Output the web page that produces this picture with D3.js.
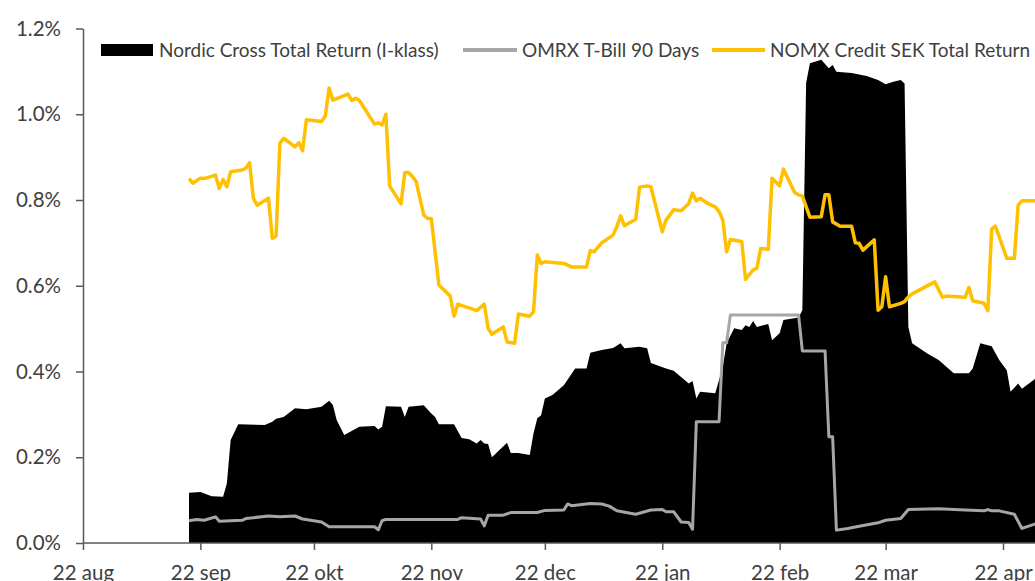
<!DOCTYPE html>
<html>
<head>
<meta charset="utf-8">
<script src="https://cdn.jsdelivr.net/npm/d3@7"></script>
<style>
  html, body { margin: 0; padding: 0; background: #fff; }
  svg { display: block; font-family: Lato, "Open Sans", sans-serif; }
</style>
</head>
<body>
<svg id="chart" width="1035" height="581"></svg>
<script>
// values in percent
const yTicks = [0, 0.2, 0.4, 0.6, 0.8, 1.0, 1.2];
const xTickDates = ["2022-08-22", "2022-09-22", "2022-10-22", "2022-11-22", "2022-12-22",
  "2023-01-22", "2023-02-22", "2023-03-22", "2023-04-22", "2023-05-22"];
const xTickLabels = ["22 aug", "22 sep", "22 okt", "22 nov", "22 dec", "22 jan", "22 feb", "22 mar", "22 apr", "22 maj"];
const seriesNames = ["Nordic Cross Total Return (I-klass)", "OMRX T-Bill 90 Days", "NOMX Credit SEK Total Return"];

const nordicCross = [
  ["2022-09-19",0.117],["2022-09-22",0.119],["2022-09-25",0.109],["2022-09-28",0.108],["2022-09-29",0.139],
  ["2022-09-30",0.240],["2022-10-02",0.277],["2022-10-09",0.275],["2022-10-11",0.283],["2022-10-12",0.290],
  ["2022-10-14",0.294],["2022-10-17",0.314],["2022-10-20",0.312],["2022-10-24",0.318],["2022-10-26",0.332],
  ["2022-10-27",0.322],["2022-10-28",0.287],["2022-10-30",0.252],["2022-11-03",0.271],["2022-11-07",0.273],
  ["2022-11-08",0.265],["2022-11-09",0.271],["2022-11-10",0.319],["2022-11-14",0.318],["2022-11-15",0.294],
  ["2022-11-16",0.318],["2022-11-20",0.321],["2022-11-22",0.302],["2022-11-23",0.294],["2022-11-24",0.277],
  ["2022-11-28",0.277],["2022-11-30",0.245],["2022-12-02",0.242],["2022-12-04",0.232],["2022-12-05",0.240],
  ["2022-12-06",0.232],["2022-12-07",0.231],["2022-12-08",0.200],["2022-12-12",0.234],["2022-12-13",0.210],
  ["2022-12-15",0.210],["2022-12-18",0.205],["2022-12-19",0.256],["2022-12-20",0.291],["2022-12-21",0.298],
  ["2022-12-22",0.337],["2022-12-24",0.345],["2022-12-27",0.368],["2022-12-30",0.407],["2023-01-02",0.407],
  ["2023-01-03",0.444],["2023-01-06",0.450],["2023-01-09",0.455],["2023-01-11",0.466],["2023-01-12",0.454],
  ["2023-01-16",0.458],["2023-01-18",0.454],["2023-01-19",0.420],["2023-01-23",0.407],["2023-01-25",0.402],
  ["2023-01-29",0.372],["2023-01-30",0.378],["2023-01-31",0.337],["2023-02-01",0.353],["2023-02-05",0.349],
  ["2023-02-07",0.411],["2023-02-08",0.466],["2023-02-10",0.501],["2023-02-12",0.497],["2023-02-13",0.508],
  ["2023-02-14",0.504],["2023-02-15",0.518],["2023-02-16",0.504],["2023-02-19",0.511],["2023-02-20",0.473],
  ["2023-02-22",0.489],["2023-02-23",0.520],["2023-02-27",0.526],["2023-02-28",0.543],["2023-03-01",1.073],
  ["2023-03-02",1.119],["2023-03-05",1.127],["2023-03-07",1.107],["2023-03-08",1.115],["2023-03-09",1.099],
  ["2023-03-13",1.096],["2023-03-17",1.089],["2023-03-20",1.080],["2023-03-22",1.070],["2023-03-24",1.076],
  ["2023-03-26",1.080],["2023-03-27",1.072],["2023-03-28",0.504],["2023-03-29",0.466],["2023-04-02",0.442],
  ["2023-04-05",0.427],["2023-04-09",0.396],["2023-04-13",0.396],["2023-04-14",0.407],["2023-04-16",0.466],
  ["2023-04-19",0.459],["2023-04-21",0.427],["2023-04-23",0.403],["2023-04-24",0.353],["2023-04-26",0.372],
  ["2023-04-27",0.360],["2023-05-01",0.386]
];

const tBill90 = [
  ["2022-09-19",0.052],["2022-09-21",0.055],["2022-09-23",0.053],["2022-09-26",0.061],["2022-09-27",0.051],
  ["2022-10-03",0.053],["2022-10-04",0.057],["2022-10-10",0.063],["2022-10-13",0.061],["2022-10-17",0.063],
  ["2022-10-19",0.056],["2022-10-24",0.049],["2022-10-26",0.038],["2022-11-07",0.038],["2022-11-08",0.031],
  ["2022-11-09",0.052],["2022-11-10",0.055],["2022-11-29",0.055],["2022-11-30",0.059],["2022-12-05",0.056],
  ["2022-12-06",0.040],["2022-12-07",0.065],["2022-12-11",0.065],["2022-12-13",0.071],["2022-12-20",0.071],
  ["2022-12-22",0.076],["2022-12-27",0.077],["2022-12-28",0.091],["2022-12-29",0.087],["2023-01-03",0.092],
  ["2023-01-06",0.091],["2023-01-08",0.086],["2023-01-10",0.075],["2023-01-15",0.067],["2023-01-19",0.077],
  ["2023-01-22",0.078],["2023-01-23",0.073],["2023-01-25",0.073],["2023-01-27",0.049],["2023-01-29",0.048],
  ["2023-01-30",0.032],["2023-01-31",0.283],["2023-02-06",0.283],["2023-02-07",0.467],["2023-02-08",0.467],
  ["2023-02-09",0.532],["2023-02-27",0.532],["2023-02-28",0.448],["2023-03-06",0.448],["2023-03-07",0.248],
  ["2023-03-08",0.248],["2023-03-09",0.030],["2023-03-12",0.034],["2023-03-15",0.039],["2023-03-20",0.047],
  ["2023-03-22",0.053],["2023-03-26",0.057],["2023-03-28",0.078],["2023-04-05",0.080],["2023-04-12",0.077],
  ["2023-04-17",0.075],["2023-04-18",0.078],["2023-04-19",0.075],["2023-04-21",0.075],["2023-04-25",0.067],
  ["2023-04-27",0.034],["2023-05-01",0.046]
];

const nomxCredit = [
  ["2022-09-19",0.850],["2022-09-20",0.839],["2022-09-22",0.851],["2022-09-23",0.850],["2022-09-26",0.858],
  ["2022-09-27",0.827],["2022-09-28",0.848],["2022-09-29",0.831],["2022-09-30",0.866],["2022-10-03",0.870],
  ["2022-10-04",0.874],["2022-10-05",0.887],["2022-10-06",0.804],["2022-10-07",0.788],["2022-10-10",0.804],
  ["2022-10-11",0.711],["2022-10-12",0.716],["2022-10-13",0.932],["2022-10-14",0.944],["2022-10-17",0.924],
  ["2022-10-18",0.934],["2022-10-19",0.915],["2022-10-20",0.987],["2022-10-24",0.983],["2022-10-25",0.996],
  ["2022-10-26",1.061],["2022-10-27",1.033],["2022-10-31",1.047],["2022-11-01",1.032],["2022-11-02",1.037],
  ["2022-11-03",1.032],["2022-11-07",0.977],["2022-11-08",0.980],["2022-11-09",0.975],["2022-11-10",1.000],
  ["2022-11-11",0.833],["2022-11-14",0.791],["2022-11-15",0.864],["2022-11-16",0.864],["2022-11-17",0.855],
  ["2022-11-18",0.843],["2022-11-20",0.765],["2022-11-21",0.757],["2022-11-22",0.757],["2022-11-24",0.602],
  ["2022-11-27",0.576],["2022-11-28",0.529],["2022-11-29",0.557],["2022-12-04",0.542],["2022-12-06",0.557],
  ["2022-12-07",0.501],["2022-12-08",0.487],["2022-12-11",0.504],["2022-12-12",0.469],["2022-12-14",0.466],
  ["2022-12-15",0.534],["2022-12-18",0.529],["2022-12-19",0.539],["2022-12-20",0.672],["2022-12-21",0.652],
  ["2022-12-22",0.656],["2022-12-27",0.652],["2022-12-29",0.644],["2023-01-02",0.644],["2023-01-03",0.682],
  ["2023-01-04",0.679],["2023-01-06",0.700],["2023-01-09",0.718],["2023-01-10",0.738],["2023-01-11",0.763],
  ["2023-01-12",0.740],["2023-01-15",0.755],["2023-01-16",0.830],["2023-01-18",0.833],["2023-01-19",0.831],
  ["2023-01-22",0.726],["2023-01-23",0.753],["2023-01-25",0.777],["2023-01-27",0.775],["2023-01-29",0.792],
  ["2023-01-30",0.816],["2023-01-31",0.798],["2023-02-01",0.804],["2023-02-03",0.792],["2023-02-05",0.784],
  ["2023-02-06",0.773],["2023-02-07",0.753],["2023-02-08",0.679],["2023-02-09",0.708],["2023-02-12",0.703],
  ["2023-02-13",0.615],["2023-02-15",0.637],["2023-02-16",0.641],["2023-02-17",0.687],["2023-02-19",0.685],
  ["2023-02-20",0.851],["2023-02-22",0.833],["2023-02-23",0.872],["2023-02-26",0.817],["2023-02-27",0.812],
  ["2023-02-28",0.809],["2023-03-02",0.760],["2023-03-05",0.761],["2023-03-06",0.812],["2023-03-07",0.812],
  ["2023-03-08",0.749],["2023-03-10",0.739],["2023-03-13",0.739],["2023-03-14",0.700],["2023-03-15",0.699],
  ["2023-03-16",0.683],["2023-03-19",0.707],["2023-03-20",0.543],["2023-03-21",0.551],["2023-03-22",0.621],
  ["2023-03-23",0.551],["2023-03-26",0.559],["2023-03-27",0.563],["2023-03-28",0.574],["2023-03-29",0.581],
  ["2023-04-04",0.609],["2023-04-06",0.573],["2023-04-07",0.576],["2023-04-11",0.574],["2023-04-12",0.573],
  ["2023-04-13",0.596],["2023-04-14",0.565],["2023-04-17",0.559],["2023-04-18",0.542],["2023-04-19",0.732],
  ["2023-04-20",0.739],["2023-04-23",0.664],["2023-04-25",0.664],["2023-04-26",0.788],["2023-04-27",0.798],
  ["2023-05-01",0.798]
];

const parse = d3.utcParse("%Y-%m-%d");
const axisColor = "#595959", textColor = "#404040";
const colors = ["#000000", "#a6a6a6", "#ffc000"];

const svg = d3.select("#chart");
const width = 1035, height = 581;

// plot frame; right side of the plot runs past the picture edge
const x = d3.scaleUtc()
  .domain([parse("2022-08-22"), parse("2023-04-22")])
  .range([83, 1003]);
const y = d3.scaleLinear().domain([0, 1.2]).range([543, 28.5]);

svg.append("rect").attr("width", width).attr("height", height).attr("fill", "#fff");

// Nordic Cross as filled area
svg.append("path")
  .datum(nordicCross)
  .attr("fill", colors[0])
  .attr("d", d3.area()
    .x(d => x(parse(d[0])))
    .y0(y(0))
    .y1(d => y(d[1])));

const line = d3.line().x(d => x(parse(d[0]))).y(d => y(d[1]));

svg.append("path")
  .datum(tBill90)
  .attr("fill", "none")
  .attr("stroke", colors[1])
  .attr("stroke-width", 3)
  .attr("stroke-linejoin", "round")
  .attr("d", line);

svg.append("path")
  .datum(nomxCredit)
  .attr("fill", "none")
  .attr("stroke", colors[2])
  .attr("stroke-width", 3.5)
  .attr("stroke-linejoin", "round")
  .attr("d", line);

// axes
const yAxis = svg.append("g")
  .attr("transform", `translate(${x.range()[0]},0)`)
  .call(d3.axisLeft(y).tickValues(yTicks).tickSize(7).tickSizeOuter(0).tickPadding(15)
    .tickFormat(d => d.toFixed(1) + "%"));

const xAxis = svg.append("g")
  .attr("transform", `translate(0,${y(0)})`)
  .call(d3.axisBottom(x).tickValues(xTickDates.map(parse)).tickSize(7).tickSizeOuter(0).tickPadding(15)
    .tickFormat((d, i) => xTickLabels[i]));

[yAxis, xAxis].forEach(g => {
  g.select(".domain").attr("stroke", axisColor).attr("stroke-width", 1.5);
  g.selectAll(".tick line").attr("stroke", axisColor).attr("stroke-width", 1.5);
  g.selectAll(".tick text").attr("fill", textColor).style("font-size", "20.5px").style("font-family", "Lato, sans-serif");
});
xAxis.select(".domain").attr("d", `M${x.range()[0]},0H${width + 10}`);

// legend
const legend = svg.append("g").attr("transform", "translate(0,50)");
const legendX = [101, 463, 712];
const legendTextX = [159, 522, 770];

legend.append("rect").attr("x", legendX[0]).attr("y", -6).attr("width", 52).attr("height", 12).attr("fill", colors[0]);
legend.append("line").attr("x1", legendX[1]).attr("x2", legendX[1] + 54).attr("stroke", colors[1]).attr("stroke-width", 4);
legend.append("line").attr("x1", legendX[2]).attr("x2", legendX[2] + 53).attr("stroke", colors[2]).attr("stroke-width", 4);

legend.selectAll("text.lg")
  .data(seriesNames).enter().append("text")
  .attr("class", "lg")
  .attr("x", (d, i) => legendTextX[i])
  .attr("dy", "0.36em")
  .attr("fill", textColor)
  .style("font-size", "19px")
  .text(d => d);
</script>
</body>
</html>
